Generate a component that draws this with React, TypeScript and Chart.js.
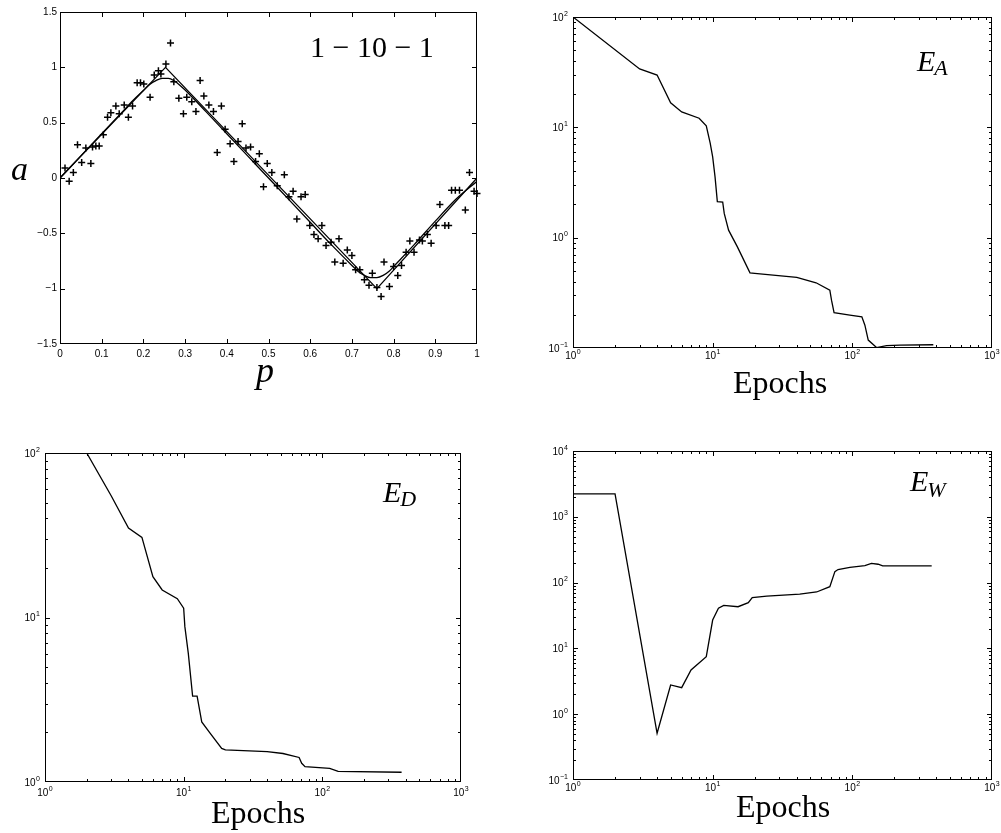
import React, { useEffect, useRef } from "react";
import { Chart, registerables } from "chart.js";

Chart.register(...registerables);

// ---- Panel 1: 1-10-1 network fit of a triangle wave ----
const sampleP = [
  0.012, 0.022, 0.032, 0.042, 0.052, 0.062, 0.074, 0.078, 0.086, 0.094,
  0.104, 0.114, 0.122, 0.134, 0.142, 0.154, 0.164, 0.174, 0.185, 0.193,
  0.201, 0.216, 0.226, 0.236, 0.242, 0.254, 0.265, 0.273, 0.285, 0.296,
  0.304, 0.316, 0.326, 0.336, 0.345, 0.357, 0.368, 0.377, 0.387, 0.396,
  0.408, 0.417, 0.427, 0.437, 0.446, 0.457, 0.469, 0.478, 0.488, 0.497,
  0.508, 0.521, 0.538, 0.549, 0.559, 0.568, 0.578, 0.588, 0.599, 0.609,
  0.619, 0.628, 0.638, 0.65, 0.659, 0.669, 0.679, 0.689, 0.7, 0.709,
  0.719, 0.73, 0.741, 0.749, 0.76, 0.77, 0.777, 0.79, 0.8, 0.81,
  0.819, 0.83, 0.839, 0.849, 0.862, 0.869, 0.881, 0.89, 0.902, 0.911,
  0.923, 0.932, 0.939, 0.948, 0.958, 0.972, 0.982, 0.993, 1.0,
];
const sampleA = [
  0.09, -0.03, 0.05, 0.3, 0.14, 0.27, 0.13, 0.28, 0.29, 0.29,
  0.39, 0.55, 0.59, 0.65, 0.58, 0.66, 0.55, 0.65, 0.86, 0.86,
  0.85, 0.73, 0.93, 0.97, 0.94, 1.03, 1.22, 0.87, 0.72, 0.58,
  0.73, 0.69, 0.6, 0.88, 0.74, 0.66, 0.6, 0.23, 0.65, 0.44,
  0.31, 0.15, 0.33, 0.49, 0.27, 0.28, 0.15, 0.22, -0.08, 0.13,
  0.05, -0.07, 0.03, -0.17, -0.12, -0.37, -0.17, -0.15, -0.43, -0.51,
  -0.55, -0.43, -0.61, -0.58, -0.76, -0.55, -0.77, -0.65, -0.7, -0.83,
  -0.83, -0.92, -0.97, -0.86, -0.99, -1.07, -0.76, -0.98, -0.8, -0.88,
  -0.79, -0.67, -0.57, -0.67, -0.56, -0.57, -0.51, -0.59, -0.43, -0.24,
  -0.43, -0.43, -0.11, -0.11, -0.11, -0.29, 0.05, -0.12, -0.14,
];
const targetP = [0, 0.253, 0.76, 1];
const targetA = [0, 1, -1, 0];
const fitP = [
  0, 0.05, 0.1, 0.15, 0.175, 0.2, 0.215, 0.23, 0.245, 0.26, 0.275, 0.29,
  0.3, 0.35, 0.4, 0.45, 0.5, 0.55, 0.6, 0.65, 0.7, 0.715, 0.73, 0.745,
  0.76, 0.775, 0.79, 0.8, 0.85, 0.9, 0.95, 1.0,
];
const fitA = [
  0, 0.2, 0.4, 0.6, 0.7, 0.79, 0.845, 0.88, 0.9, 0.9, 0.875, 0.83,
  0.795, 0.6, 0.4, 0.2, 0, -0.2, -0.4, -0.6, -0.79, -0.845, -0.88, -0.9,
  -0.9, -0.88, -0.84, -0.8, -0.6, -0.39, -0.19, -0.03,
];
const pTicks = [0, 0.1, 0.2, 0.3, 0.4, 0.5, 0.6, 0.7, 0.8, 0.9, 1];
const pTickLabels = ["0", "0.1", "0.2", "0.3", "0.4", "0.5", "0.6", "0.7", "0.8", "0.9", "1"];
const aTicks = [-1.5, -1, -0.5, 0, 0.5, 1, 1.5];
const aTickLabels = ["\u22121.5", "\u22121", "\u22120.5", "0", "0.5", "1", "1.5"];

// ---- Panels 2-4: error terms against training epochs ----
const epochsEA = [1, 3, 4, 5, 6, 8, 9, 9.6, 10, 10.4, 10.8, 11.8, 12.1, 13, 15, 18.5, 20, 40, 55, 69, 71, 74, 96, 117, 123, 130, 149, 176, 219, 380];
const valuesEA = [100, 33.8, 29.8, 16.7, 13.8, 12.1, 10.3, 7.2, 5.4, 3.56, 2.12, 2.1, 1.66, 1.17, 0.83, 0.48, 0.475, 0.437, 0.39, 0.335, 0.27, 0.209, 0.199, 0.192, 0.161, 0.118, 0.101, 0.105, 0.106, 0.107];

const epochsED = [1, 2, 3, 4, 5, 6, 7, 9, 10, 10.2, 10.8, 11.6, 12.5, 13.5, 15.5, 18.8, 20, 40, 52, 68, 71, 75, 113, 130, 373];
const valuesED = [100, 100, 55, 35, 30.7, 17.7, 14.7, 13, 11.4, 8.8, 6.05, 3.33, 3.33, 2.32, 1.98, 1.6, 1.57, 1.53, 1.49, 1.41, 1.3, 1.24, 1.21, 1.16, 1.146];

const epochsEW = [1, 2, 4, 5, 6, 7, 9, 10, 11, 12, 15.2, 18, 19.2, 24.4, 42, 55.5, 69, 75, 79, 96, 123, 137, 153, 165, 370];
const valuesEW = [2223, 2223, 0.513, 2.78, 2.53, 4.7, 7.48, 27, 40.7, 45, 43, 49.5, 59, 62.5, 67, 72, 86.7, 147, 158, 171, 181, 196, 190, 179, 179];

const epochDecades = [0, 1, 2, 3];
const decadesEA = [-1, 0, 1, 2];
const decadesED = [0, 1, 2];
const decadesEW = [-1, 0, 1, 2, 3, 4];

const SANS = "'Liberation Sans', Arial, Helvetica, sans-serif";
const SERIF = "'Liberation Serif', 'Times New Roman', Times, serif";

type AxisSpec = {
  log: boolean;
  ticks: number[]; // values (linear) or exponents (log)
  labels?: string[];
  labelGap: number;
};
type Caption = {
  text: string;
  sub?: string;
  x: number;
  y: number;
  size: number;
  subSize?: number;
  subDrop?: number;
  italic?: boolean;
  align?: "left" | "center";
};
type FrameSpec = { x: AxisSpec; y: AxisSpec; captions: Caption[] };

function drawPower(ctx: CanvasRenderingContext2D, exp: number, x: number, cy: number, align: "center" | "right") {
  const base = "10";
  const sup = exp < 0 ? "\u2212" + String(-exp) : String(exp);
  ctx.font = `10px ${SANS}`;
  const wb = ctx.measureText(base).width;
  ctx.font = `7px ${SANS}`;
  const ws = ctx.measureText(sup).width;
  const total = wb + ws + 0.5;
  const x0 = align === "center" ? x - total / 2 : x - total;
  ctx.textAlign = "left";
  ctx.textBaseline = "alphabetic";
  ctx.font = `10px ${SANS}`;
  ctx.fillText(base, x0, cy + 3.6);
  ctx.font = `7px ${SANS}`;
  ctx.fillText(sup, x0 + wb + 0.5, cy - 1.5);
}

// Boxed axes with inward ticks on all four sides, tick labels and captions.
function makeFrame(spec: FrameSpec) {
  return {
    id: "frame",
    afterDraw(chart: Chart) {
      const { ctx, chartArea: a } = chart;
      const xs = chart.scales.x;
      const ys = chart.scales.y;
      const L = Math.round(a.left);
      const R = Math.round(a.right) - 1;
      const T = Math.round(a.top);
      const B = Math.round(a.bottom) - 1;
      ctx.save();
      ctx.fillStyle = "#000";
      // box
      ctx.fillRect(L, T, R - L + 1, 1);
      ctx.fillRect(L, B, R - L + 1, 1);
      ctx.fillRect(L, T, 1, B - T + 1);
      ctx.fillRect(R, T, 1, B - T + 1);

      // inward ticks on both sides of each axis
      const xTick = (v: number, len: number) => {
        const px = Math.round(xs.getPixelForValue(v));
        const cx = Math.min(Math.max(px, L), R);
        ctx.fillRect(cx, B - len + 1, 1, len);
        ctx.fillRect(cx, T, 1, len);
      };
      const yTick = (v: number, len: number) => {
        const py = Math.round(ys.getPixelForValue(v));
        const cy = Math.min(Math.max(py, T), B);
        ctx.fillRect(L, cy, len, 1);
        ctx.fillRect(R - len + 1, cy, len, 1);
      };
      const ticksFor = (ax: AxisSpec, fn: (v: number, len: number) => void) => {
        if (!ax.log) {
          ax.ticks.forEach((v) => fn(v, 5));
          return;
        }
        ax.ticks.forEach((e, i) => {
          fn(Math.pow(10, e), 5);
          if (i < ax.ticks.length - 1) {
            for (let m = 2; m <= 9; m++) fn(m * Math.pow(10, e), 3);
          }
        });
      };
      ticksFor(spec.x, xTick);
      ticksFor(spec.y, yTick);

      // x tick labels
      spec.x.ticks.forEach((t, i) => {
        const v = spec.x.log ? Math.pow(10, t) : t;
        const px = xs.getPixelForValue(v);
        const cy = a.bottom + spec.x.labelGap;
        if (spec.x.log) {
          drawPower(ctx, t, px, cy, "center");
        } else {
          ctx.font = `10px ${SANS}`;
          ctx.textAlign = "center";
          ctx.textBaseline = "middle";
          ctx.fillText(spec.x.labels ? spec.x.labels[i] : String(t), px, cy);
        }
      });
      // y tick labels
      spec.y.ticks.forEach((t, i) => {
        const v = spec.y.log ? Math.pow(10, t) : t;
        const py = ys.getPixelForValue(v);
        const rx = a.left - spec.y.labelGap;
        if (spec.y.log) {
          drawPower(ctx, t, rx, py, "right");
        } else {
          ctx.font = `10px ${SANS}`;
          ctx.textAlign = "right";
          ctx.textBaseline = "middle";
          ctx.fillText(spec.y.labels ? spec.y.labels[i] : String(t), rx, py);
        }
      });

      // captions (axis names and panel labels)
      spec.captions.forEach((c) => {
        const style = c.italic ? "italic " : "";
        ctx.font = `${style}${c.size}px ${SERIF}`;
        ctx.textBaseline = "alphabetic";
        const w = ctx.measureText(c.text).width;
        let subW = 0;
        if (c.sub) {
          ctx.font = `${style}${c.subSize}px ${SERIF}`;
          subW = ctx.measureText(c.sub).width;
        }
        const x0 = c.align === "center" ? c.x - (w + subW) / 2 : c.x;
        ctx.textAlign = "left";
        ctx.font = `${style}${c.size}px ${SERIF}`;
        ctx.fillText(c.text, x0, c.y);
        if (c.sub) {
          ctx.font = `${style}${c.subSize}px ${SERIF}`;
          ctx.fillText(c.sub, x0 + w - 1, c.y + (c.subDrop || 0));
        }
      });
      ctx.restore();
    },
  };
}

const toXY = (xs: number[], ys: number[]) => xs.map((x, i) => ({ x, y: ys[i] }));

const lineStyle = {
  borderColor: "#000",
  borderWidth: 1.3,
  pointRadius: 0,
  fill: false,
  tension: 0,
};

type PanelDef = {
  left: number;
  top: number;
  width: number;
  height: number;
  padding: { left: number; right: number; top: number; bottom: number };
  build: () => any;
};

function baseOptions(padding: PanelDef["padding"], scales: any) {
  return {
    responsive: false,
    animation: false as const,
    devicePixelRatio: 1,
    events: [],
    layout: { padding },
    plugins: { legend: { display: false }, tooltip: { enabled: false } },
    scales,
  };
}

const logEpochAxis = { type: "logarithmic", min: 1, max: 1000, display: false };

const panels: PanelDef[] = [
  {
    left: 0,
    top: 0,
    width: 500,
    height: 410,
    padding: { left: 60, right: 23, top: 12, bottom: 66 },
    build() {
      return {
        type: "line",
        data: {
          datasets: [
            { data: toXY(targetP, targetA), ...lineStyle },
            { data: toXY(fitP, fitA), ...lineStyle, cubicInterpolationMode: "monotone" },
            {
              data: toXY(sampleP, sampleA),
              showLine: false,
              pointStyle: "cross",
              pointRadius: 3.5,
              borderWidth: 1.5,
              borderColor: "#000",
              clip: 6,
            },
          ],
        },
        options: baseOptions(this.padding, {
          x: { type: "linear", min: 0, max: 1, display: false },
          y: { type: "linear", min: -1.5, max: 1.5, display: false },
        }),
        plugins: [
          makeFrame({
            x: { log: false, ticks: pTicks, labels: pTickLabels, labelGap: 10 },
            y: { log: false, ticks: aTicks, labels: aTickLabels, labelGap: 3 },
            captions: [
              { text: "1 \u2212 10 \u2212 1", x: 310, y: 57, size: 30 },
              { text: "a", x: 11, y: 180, size: 34, italic: true },
              { text: "p", x: 265, y: 382, size: 36, italic: true, align: "center" },
            ],
          }),
        ],
      };
    },
  },
  {
    left: 500,
    top: 0,
    width: 501,
    height: 410,
    padding: { left: 73, right: 9, top: 17, bottom: 62 },
    build() {
      return {
        type: "line",
        data: { datasets: [{ data: toXY(epochsEA, valuesEA), ...lineStyle }] },
        options: baseOptions(this.padding, {
          x: logEpochAxis,
          y: { type: "logarithmic", min: 0.1, max: 100, display: false },
        }),
        plugins: [
          makeFrame({
            x: { log: true, ticks: epochDecades, labelGap: 7 },
            y: { log: true, ticks: decadesEA, labelGap: 5 },
            captions: [
              { text: "E", sub: "A", x: 417, y: 71, size: 30, subSize: 22, subDrop: 4, italic: true },
              { text: "Epochs", x: 280, y: 393, size: 32, align: "center" },
            ],
          }),
        ],
      };
    },
  },
  {
    left: 0,
    top: 420,
    width: 500,
    height: 413,
    padding: { left: 45, right: 39, top: 33, bottom: 51 },
    build() {
      return {
        type: "line",
        data: { datasets: [{ data: toXY(epochsED, valuesED), ...lineStyle }] },
        options: baseOptions(this.padding, {
          x: logEpochAxis,
          y: { type: "logarithmic", min: 1, max: 100, display: false },
        }),
        plugins: [
          makeFrame({
            x: { log: true, ticks: epochDecades, labelGap: 10 },
            y: { log: true, ticks: decadesED, labelGap: 5 },
            captions: [
              { text: "E", sub: "D", x: 383, y: 82, size: 30, subSize: 22, subDrop: 4, italic: true },
              { text: "Epochs", x: 258, y: 403, size: 32, align: "center" },
            ],
          }),
        ],
      };
    },
  },
  {
    left: 500,
    top: 420,
    width: 501,
    height: 413,
    padding: { left: 73, right: 9, top: 31, bottom: 53 },
    build() {
      return {
        type: "line",
        data: { datasets: [{ data: toXY(epochsEW, valuesEW), ...lineStyle }] },
        options: baseOptions(this.padding, {
          x: logEpochAxis,
          y: { type: "logarithmic", min: 0.1, max: 10000, display: false },
        }),
        plugins: [
          makeFrame({
            x: { log: true, ticks: epochDecades, labelGap: 7 },
            y: { log: true, ticks: decadesEW, labelGap: 5 },
            captions: [
              { text: "E", sub: "W", x: 410, y: 71, size: 30, subSize: 22, subDrop: 6, italic: true },
              { text: "Epochs", x: 283, y: 397, size: 32, align: "center" },
            ],
          }),
        ],
      };
    },
  },
];

function Panel({ def }: { def: PanelDef }) {
  const ref = useRef<HTMLCanvasElement>(null);
  useEffect(() => {
    if (!ref.current) return;
    const chart = new Chart(ref.current, def.build());
    return () => chart.destroy();
  }, [def]);
  return (
    <canvas
      ref={ref}
      width={def.width}
      height={def.height}
      style={{ position: "absolute", left: def.left, top: def.top, width: def.width, height: def.height }}
    />
  );
}

export default function App() {
  return (
    <div style={{ position: "absolute", left: 0, top: 0, width: 1001, height: 833, background: "#fff", overflow: "hidden" }}>
      {panels.map((p, i) => (
        <Panel key={i} def={p} />
      ))}
    </div>
  );
}
